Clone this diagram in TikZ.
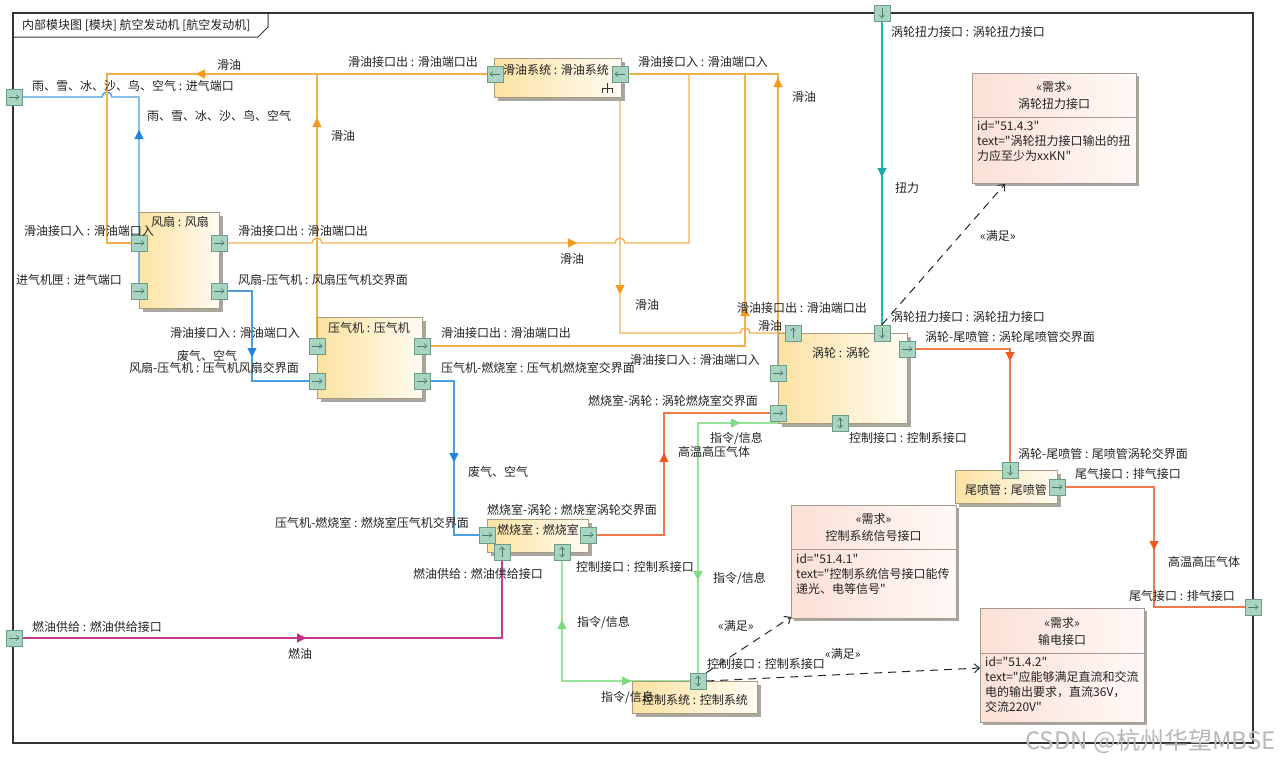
\documentclass[tikz,border=0pt]{standalone}
\usepackage{fontspec}
\setmainfont{Noto Sans CJK SC}[Ligatures=TeXOff]
\usetikzlibrary{arrows.meta,shadows,calc}
\pgfdeclarelayer{bg}
\pgfsetlayers{bg,main}
\definecolor{frameC}{HTML}{333333}
\definecolor{txtC}{HTML}{222222}
\definecolor{blkB}{HTML}{A89C80}
\definecolor{blkL}{HTML}{FCE2A2}
\definecolor{blkR}{HTML}{FFFCF3}
\definecolor{shadC}{HTML}{A9A79F}
\definecolor{portF}{HTML}{A9D4C1}
\definecolor{portD}{HTML}{6A9C86}
\definecolor{portA}{HTML}{4A7A68}
\definecolor{oilC}{HTML}{F2B04F}
\definecolor{oilA}{HTML}{F39A1C}
\definecolor{airC}{HTML}{4A9FE0}
\definecolor{airA}{HTML}{1F86E0}
\definecolor{gasC}{HTML}{EE7A4A}
\definecolor{gasA}{HTML}{F05A22}
\definecolor{torqC}{HTML}{22B8B8}
\definecolor{torqA}{HTML}{1AA8A8}
\definecolor{fuelC}{HTML}{C73A96}
\definecolor{fuelA}{HTML}{C02E8C}
\definecolor{ctlC}{HTML}{98E49A}
\definecolor{ctlA}{HTML}{7EDB80}
\definecolor{reqL}{HTML}{FBE0D6}
\definecolor{reqR}{HTML}{FFF9F6}
\definecolor{reqB}{HTML}{A39A92}
\tikzset{
  lbl/.style={font=\fontsize{12}{15}\selectfont, text=txtC, inner sep=0pt},
  frame/.style={draw=frameC, line width=1.2pt},
  block/.style={draw=blkB, line width=1pt, left color=blkL, right color=blkR, inner sep=0pt,
    drop shadow={shadow xshift=4pt, shadow yshift=-4pt, fill=shadC, opacity=1}},
  req/.style={draw=reqB, line width=0.9pt, left color=reqL, right color=reqR, inner sep=0pt,
    drop shadow={shadow xshift=3pt, shadow yshift=-3pt, fill=shadC, opacity=1}},
  reqline/.style={draw=reqB, line width=0.8pt},
  port/.style={draw=portD, fill=portF, minimum size=16pt, inner sep=0pt, line width=0.7pt},
  picon/.style={draw=portA, line width=0.6pt},
  pR/.style={port, path picture={
    \draw[picon] ($(path picture bounding box.center)+(-5pt,0pt)$) -- ($(path picture bounding box.center)+(5pt,0pt)$);
    \draw[picon] ($(path picture bounding box.center)+(2pt,2.5pt)$) -- ($(path picture bounding box.center)+(5pt,0pt)$) -- ($(path picture bounding box.center)+(2pt,-2.5pt)$);}},
  pL/.style={port, path picture={
    \draw[picon] ($(path picture bounding box.center)+(-5pt,0pt)$) -- ($(path picture bounding box.center)+(5pt,0pt)$);
    \draw[picon] ($(path picture bounding box.center)+(-2pt,2.5pt)$) -- ($(path picture bounding box.center)+(-5pt,0pt)$) -- ($(path picture bounding box.center)+(-2pt,-2.5pt)$);}},
  pU/.style={port, path picture={
    \draw[picon] ($(path picture bounding box.center)+(0pt,-5pt)$) -- ($(path picture bounding box.center)+(0pt,5pt)$);
    \draw[picon] ($(path picture bounding box.center)+(-2.5pt,2pt)$) -- ($(path picture bounding box.center)+(0pt,5pt)$) -- ($(path picture bounding box.center)+(2.5pt,2pt)$);}},
  pD/.style={port, path picture={
    \draw[picon] ($(path picture bounding box.center)+(0pt,-5pt)$) -- ($(path picture bounding box.center)+(0pt,5pt)$);
    \draw[picon] ($(path picture bounding box.center)+(-2.5pt,-2pt)$) -- ($(path picture bounding box.center)+(0pt,-5pt)$) -- ($(path picture bounding box.center)+(2.5pt,-2pt)$);}},
  pUD/.style={port, path picture={
    \draw[picon] ($(path picture bounding box.center)+(0pt,-5pt)$) -- ($(path picture bounding box.center)+(0pt,5pt)$);
    \draw[picon] ($(path picture bounding box.center)+(-2.5pt,2pt)$) -- ($(path picture bounding box.center)+(0pt,5pt)$) -- ($(path picture bounding box.center)+(2.5pt,2pt)$);
    \draw[picon] ($(path picture bounding box.center)+(-2.5pt,-2pt)$) -- ($(path picture bounding box.center)+(0pt,-5pt)$) -- ($(path picture bounding box.center)+(2.5pt,-2pt)$);}},
  oil/.style={draw=oilC, line width=1.4pt},
  air/.style={draw=airC, line width=1.4pt},
  gas/.style={draw=gasC, line width=1.4pt},
  torq/.style={draw=torqC, line width=1.4pt},
  fuel/.style={draw=fuelC, line width=1.4pt},
  ctl/.style={draw=ctlC, line width=1.4pt},
  tipO/.style={draw=oilA, line width=0.2pt, -{Triangle[length=9pt,width=9pt]}},
  tipAir/.style={draw=airA, line width=0.2pt, -{Triangle[length=9pt,width=9pt]}},
  tipG/.style={draw=gasA, line width=0.2pt, -{Triangle[length=9pt,width=9pt]}},
  tipT/.style={draw=torqA, line width=0.2pt, -{Triangle[length=9pt,width=9pt]}},
  tipF/.style={draw=fuelA, line width=0.2pt, -{Triangle[length=9pt,width=9pt]}},
  tipC/.style={draw=ctlA, line width=0.2pt, -{Triangle[length=9pt,width=9pt]}},
  sat/.style={draw=black!85, line width=1pt, dash pattern=on 8pt off 6pt, -{Straight Barb[length=5pt,width=9pt]}}
}
\begin{document}
\begin{tikzpicture}[x=1pt,y=-1pt]
\useasboundingbox (0,0) rectangle (1280,763);
% frame
\draw[frame] (13,13) rectangle (1253,743);
\draw[frame, line width=1pt] (13,37) -- (258,37) -- (268,27) -- (268,13);
\node[lbl, anchor=west] (title) at (22,25) {内部模块图 [模块] 航空发动机 [航空发动机]};

% blocks
\node[block, minimum width=80pt, minimum height=96pt] (fan) at (179,260) {};
\node[block, minimum width=105pt, minimum height=81pt] (comp) at (369.5,357.5) {};
\node[block, minimum width=127pt, minimum height=39pt] (lube) at (557.5,77.5) {};
\node[block, minimum width=129pt, minimum height=90pt] (turb) at (842.5,378) {};
\node[block, minimum width=101pt, minimum height=33pt] (comb) at (537.5,535.5) {};
\node[block, minimum width=102pt, minimum height=33pt] (noz) at (1006,486.5) {};
\node[block, minimum width=125pt, minimum height=32pt] (ctrl) at (694.5,697) {};

\node[lbl, anchor=west] (tFan) at (151,222) {风扇 : 风扇};
\node[lbl, anchor=west] (tComp) at (328,328) {压气机 : 压气机};
\node[lbl, anchor=west] (tLube) at (503,70) {滑油系统 : 滑油系统};
\node[lbl, anchor=west] (tTurb) at (812,353) {涡轮 : 涡轮};
\node[lbl, anchor=west] (tComb) at (497,530) {燃烧室 : 燃烧室};
\node[lbl, anchor=west] (tNoz) at (965,490) {尾喷管 : 尾喷管};
\node[lbl, anchor=west] (tCtrl) at (642,700) {控制系统 : 控制系统};
% decomposition icon
\draw[black!80, line width=0.9pt] (607,83) -- (607,93) (602,93) -- (602,88) -- (612,88) -- (612,93);

% requirements
\node[req, minimum width=164pt, minimum height=110pt] (req1) at (1054,128) {};
\node[lbl] (req1s) at (1054,87) {«需求»};
\node[lbl] (req1n) at (1054,104) {涡轮扭力接口};
\draw[reqline] (req1.west |- 0,117) -- (req1.east |- 0,117);
\node[lbl, anchor=north west, align=left] (req1b) at (977,121) {id="51.4.3"\\text="涡轮扭力接口输出的扭\\力应至少为xxKN"};

\node[req, minimum width=165pt, minimum height=113pt] (req2) at (873.5,561.5) {};
\node[lbl] (req2s) at (873.5,519) {«需求»};
\node[lbl] (req2n) at (873.5,536) {控制系统信号接口};
\draw[reqline] (req2.west |- 0,549) -- (req2.east |- 0,549);
\node[lbl, anchor=north west, align=left] (req2b) at (796,554) {id="51.4.1"\\text="控制系统信号接口能传\\递光、电等信号"};

\node[req, minimum width=164pt, minimum height=114pt] (req3) at (1062,665) {};
\node[lbl] (req3s) at (1062,623) {«需求»};
\node[lbl] (req3n) at (1062,640) {输电接口};
\draw[reqline] (req3.west |- 0,653) -- (req3.east |- 0,653);
\node[lbl, anchor=north west, align=left] (req3b) at (985,657) {id="51.4.2"\\text="应能够满足直流和交流\\电的输出要求，直流36V，\\交流220V"};

% ports
\node[pR] (bIn) at (14,97) {};
\node[pR] (bFuel) at (14,638) {};
\node[pD] (bTorque) at (882,13) {};
\node[pR] (bExh) at (1253,607) {};
\node[pR] (fanLU) at (139,243) {};
\node[pR] (fanLL) at (139,291) {};
\node[pR] (fanRU) at (219,243) {};
\node[pR] (fanRL) at (219,291) {};
\node[pR] (compLU) at (317,346) {};
\node[pR] (compLL) at (317,381) {};
\node[pR] (compRU) at (422,346) {};
\node[pR] (compRL) at (422,381) {};
\node[pL] (lubeL) at (495,74) {};
\node[pL] (lubeR) at (620,74) {};
\node[pU] (turbTL) at (793,333) {};
\node[pD] (turbTR) at (882,333) {};
\node[pR] (turbL1) at (778,373) {};
\node[pR] (turbL2) at (778,413) {};
\node[pR] (turbR) at (907,349) {};
\node[pUD] (turbB) at (840,423) {};
\node[pR] (combL) at (487,535) {};
\node[pR] (combR) at (588,535) {};
\node[pU] (combB1) at (502,552) {};
\node[pUD] (combB2) at (562,552) {};
\node[pD] (nozT) at (1010,470) {};
\node[pR] (nozR) at (1057,487) {};
\node[pUD] (ctrlT) at (698,681) {};

\coordinate (r1tip) at (1005,184);
\coordinate (r2tip) at (791,617);
\coordinate (r3tip) at (980,668);

% connectors
\begin{pgfonlayer}{bg}
\fill[white] (0,0) rectangle (1280,763);
% air
\draw[air] (fanLL.center) -- (139,97) -- (112,97) arc(0:-180:5) -- (bIn.center);
\draw[air] (fanRL.center) -- (252,291) |- (compLL.center);
\draw[air] (compRL.center) -- (454,381) |- (combL.center);
% oil
\draw[oil] (lubeL.center) -- (107,74) |- (fanLU.center);
\draw[oil] (fanRU.center) -- (312,243) arc(180:360:5) -- (615,243) arc(180:360:5) -- (689,243) |- (lubeR.center);
\draw[oil] (compLU.center) |- (lubeL.center);
\draw[oil] (compRU.center) -| (745,74) -- (lubeR.center);
\draw[oil] (lubeR.center) -- (620,333) -- (740,333) arc(180:360:5) -- (turbTL.center);
\draw[oil] (turbL1.center) -- (778,74) -- (lubeR.center);
% gas
\draw[gas] (combR.center) -- (664,535) |- (turbL2.center);
\draw[gas] (turbR.center) -| (nozT.center);
\draw[gas] (nozR.center) -- (1154,487) |- (bExh.center);
% torque
\draw[torq] (bTorque.center) -- (turbTR.center);
% fuel
\draw[fuel] (bFuel.center) -| (combB1.center);
% control
\draw[ctl] (combB2.center) |- (ctrlT.center);
\draw[ctl] (ctrlT.center) -- (698,423) -- (turbB.center);
\end{pgfonlayer}

% flow arrowheads
\draw[tipO] (206,74) -- (196,74);
\draw[tipO] (317,127) -- (317,118);
\draw[tipO] (568,243) -- (577,243);
\draw[tipO] (778,87) -- (778,78);
\draw[tipO] (620,285) -- (620,294);
\draw[tipO] (745,316) -- (745,307);
\draw[tipAir] (139,139) -- (139,130);
\draw[tipAir] (252,348) -- (252,357);
\draw[tipAir] (454,453) -- (454,462);
\draw[tipG] (664,462) -- (664,453);
\draw[tipG] (1010,352) -- (1010,361);
\draw[tipG] (1154,541) -- (1154,550);
\draw[tipT] (882,168) -- (882,177);
\draw[tipF] (297,638) -- (306,638);
\draw[tipC] (731,423) -- (740,423);
\draw[tipC] (698,571) -- (698,580);
\draw[tipC] (562,629) -- (562,620);
\draw[tipC] (622,681) -- (631,681);

% satisfy
\draw[sat] (turbTR.north) -- (r1tip);
\draw[sat] (ctrlT.north east) -- (r2tip);
\draw[sat] (ctrlT.east) -- (r3tip);

% labels
\node[lbl, anchor=west] (l1) at (217,65) {滑油};
\node[lbl, anchor=west] (l2) at (348,62) {滑油接口出 : 滑油端口出};
\node[lbl, anchor=west] (l3) at (32,86) {雨、雪、冰、沙、鸟、空气 : 进气端口};
\node[lbl, anchor=west] (l4) at (147,116) {雨、雪、冰、沙、鸟、空气};
\node[lbl, anchor=west] (l5) at (331,136) {滑油};
\node[lbl, anchor=west] (l6) at (24,231) {滑油接口入 : 滑油端口入};
\node[lbl, anchor=west] (l8) at (238,231) {滑油接口出 : 滑油端口出};
\node[lbl, anchor=west] (l9) at (560,259) {滑油};
\node[lbl, anchor=west] (l10) at (638,62) {滑油接口入 : 滑油端口入};
\node[lbl, anchor=west] (l11) at (792,97) {滑油};
\node[lbl, anchor=west] (l12) at (891,32) {涡轮扭力接口 : 涡轮扭力接口};
\node[lbl, anchor=west] (l13) at (895,188) {扭力};
\node[lbl, anchor=west] (l14) at (980,236) {«满足»};
\node[lbl, anchor=west] (l15) at (16,280) {进气机匣 : 进气端口};
\node[lbl, anchor=west] (l16) at (238,280) {风扇-压气机 : 风扇压气机交界面};
\node[lbl, anchor=west] (l17) at (170,333) {滑油接口入 : 滑油端口入};
\node[lbl, anchor=west] (l19) at (177,356) {废气、空气};
\node[lbl, anchor=west] (l20) at (129,368) {风扇-压气机 : 压气机风扇交界面};
\node[lbl, anchor=west] (l21) at (635,305) {滑油};
\node[lbl, anchor=west] (l22) at (441,333) {滑油接口出 : 滑油端口出};
\node[lbl, anchor=west] (l23) at (737,308) {滑油接口出 : 滑油端口出};
\node[lbl, anchor=west] (l24) at (758,326) {滑油};
\node[lbl, anchor=west] (l25) at (630,360) {滑油接口入 : 滑油端口入};
\node[lbl, anchor=west] (l26) at (441,368) {压气机-燃烧室 : 压气机燃烧室交界面};
\node[lbl, anchor=west] (l27) at (588,401) {燃烧室-涡轮 : 涡轮燃烧室交界面};
\node[lbl, anchor=west] (l29) at (710,438) {指令/信息};
\node[lbl, anchor=west] (l30) at (678,452) {高温高压气体};
\node[lbl, anchor=west] (l31) at (468,472) {废气、空气};
\node[lbl, anchor=west] (l32) at (487,510) {燃烧室-涡轮 : 燃烧室涡轮交界面};
\node[lbl, anchor=west] (l33) at (891,317) {涡轮扭力接口 : 涡轮扭力接口};
\node[lbl, anchor=west] (l34) at (925,337) {涡轮-尾喷管 : 涡轮尾喷管交界面};
\node[lbl, anchor=west] (l35) at (849,438) {控制接口 : 控制系接口};
\node[lbl, anchor=west] (l36) at (1018,454) {涡轮-尾喷管 : 尾喷管涡轮交界面};
\node[lbl, anchor=west] (l37) at (1075,474) {尾气接口 : 排气接口};
\node[lbl, anchor=west] (l39) at (275,523) {压气机-燃烧室 : 燃烧室压气机交界面};
\node[lbl, anchor=west] (l41) at (413,574) {燃油供给 : 燃油供给接口};
\node[lbl, anchor=west] (l42) at (576,567) {控制接口 : 控制系接口};
\node[lbl, anchor=west] (l43) at (713,578) {指令/信息};
\node[lbl, anchor=west] (l44) at (577,622) {指令/信息};
\node[lbl, anchor=west] (l45) at (718,626) {«满足»};
\node[lbl, anchor=west] (l46) at (707,664) {控制接口 : 控制系接口};
\node[lbl, anchor=west] (l47) at (825,654) {«满足»};
\node[lbl, anchor=west] (l48) at (601,697) {指令/信息};
\node[lbl, anchor=west] (l50) at (32,627) {燃油供给 : 燃油供给接口};
\node[lbl, anchor=west] (l51) at (288,654) {燃油};
\node[lbl, anchor=west] (l52) at (1168,562) {高温高压气体};
\node[lbl, anchor=west] (l53) at (1129,596) {尾气接口 : 排气接口};
% watermark
\node[anchor=west, inner sep=0pt, text=black!28, font=\fontsize{24}{26}\selectfont] (wm) at (1025,741) {CSDN @杭州华望MBSE};
\end{tikzpicture}
\end{document}
